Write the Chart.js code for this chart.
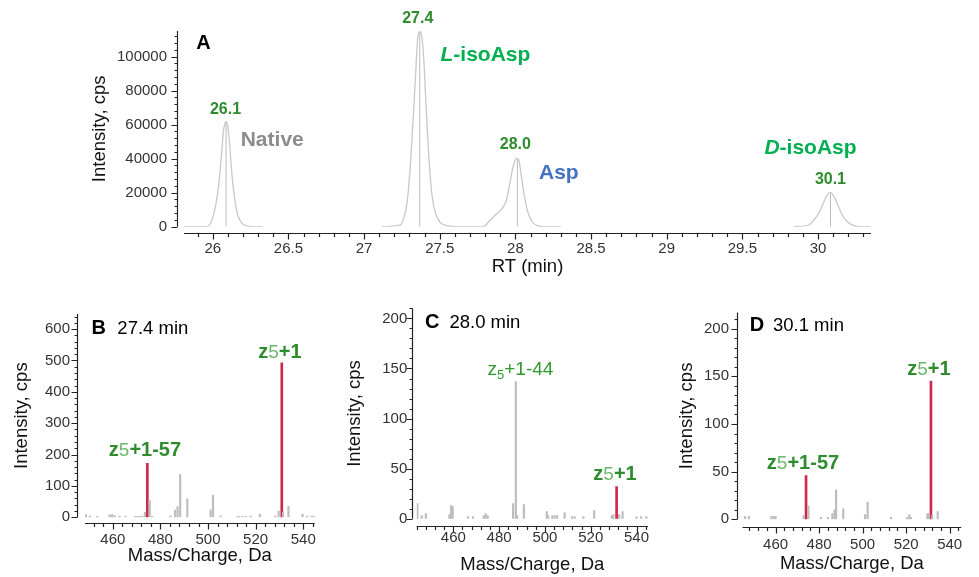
<!DOCTYPE html>
<html><head><meta charset="utf-8">
<script src="https://cdn.jsdelivr.net/npm/chart.js@4.4.1/dist/chart.umd.min.js"></script>
<style>
body{margin:0;width:979px;height:577px;overflow:hidden;background:#fff;position:relative}
canvas{position:absolute}
</style></head><body>
<canvas id="cA" style="left:0;top:0"></canvas>
<canvas id="cB" style="left:0;top:290px"></canvas>
<canvas id="cC" style="left:330px;top:290px"></canvas>
<canvas id="cD" style="left:660px;top:290px"></canvas>
<script>
// panel A: extracted ion chromatogram (null = gap between traces)
const traceRT=[25.81,25.96,25.99,26.018,26.04,26.055,26.069,26.08,26.089,26.1,26.113,26.128,26.146,26.165,26.194,26.227,26.26,26.33,26.7,
  27.12,27.24,27.262,27.28,27.295,27.311,27.328,27.342,27.353,27.366,27.38,27.395,27.41,27.428,27.45,27.472,27.505,27.55,27.615,27.79,
  27.824,27.868,27.913,27.941,27.963,27.985,28.007,28.022,28.04,28.06,28.082,28.111,28.144,28.188,28.30,29.0,
  29.84,29.939,29.972,30.005,30.034,30.06,30.082,30.104,30.131,30.16,30.193,30.237,30.28,30.347];
const traceInt=[0,0,3000,11750,25500,39200,54900,60750,61700,58750,47000,29400,15700,6900,2000,500,0,0,null,
  0,1000,4900,11750,23500,43100,68600,92000,109700,114600,112600,97900,70500,41100,17600,7900,2350,600,0,0,
  2900,6900,10800,15700,25500,35250,40200,39200,29400,17600,8800,2900,600,0,0,null,
  0,1000,3900,7900,13700,18600,20200,18000,12750,6900,2900,600,0,0];
const peakRT=[26.088,27.368,28.013,30.082];
const peakInt=[61700,114600,40200,20200];
const rtTicks=[26,26.5,27,27.5,28,28.5,29,29.5,30];
const intTicksA=[0,20000,40000,60000,80000,100000];

// panels B-D: MS/MS spectra
const mzTicks=[460,480,500,520,540];
const intTicksB=[0,100,200,300,400,500,600];
const intTicksCD=[0,50,100,150,200];
const bMz=[448.7,450.4,453.4,458.6,459.6,460.7,462.8,465.3,469.4,470.3,471.3,472.4,473.5,475.5,476.5,484.2,486.2,487.2,488.3,491.3,501.1,502.1,505.3,512.4,513.1,514.5,515.9,517.9,521.8,528.3,529.7,531.5,533.8,539.7,541.7,543.5,544.4];
const bInt=[9,4,3,8,9,6,4,4,3,3,3,4,16,53,3,5,23,34,136,59,24,71,5,3,3,3,3,4,10,5,20,16,35,10,4,4,4];
const bRedMz=[474.5,531.0];
const bRedInt=[172,492];
const cMz=[444.3,446.2,448,458.3,459,459.7,466.4,468.6,473.3,474.1,475,486.1,487.3,487.9,490.8,500.8,501.4,503.2,504.2,505.3,508.6,511.8,513,516.8,521.5,529.2,529.9,532.4,533.9,540,542,544.3];
const cInt=[15,3,5,4,13,12,2,2,3,5,3,15,137,3,14,7,3,3,3,3,6,2,2,2,8,3,4,4,7,2,2,2];
const cRedMz=[531.3];
const cRedInt=[32];
const dMz=[445.9,447.7,458.1,459.1,460,472.9,475.1,480.8,484.1,486.1,487.1,487.8,491.1,501.1,502.3,513,520.5,521.5,522.2,529.8,530.5,532,534.5];
const dInt=[3,3,3,3,3,4,14,2,2,6,10,31,11,5,18,2,2,5,2,6,6,4,8];
const dRedMz=[474.0,531.4];
const dRedInt=[46,145];

const F="'Liberation Sans', Arial, sans-serif";
const DG='#2e8b2e', LG='#6cb86c', RED='#d0284a', GRAY='#bdbdbd';

function axesPlugin(o){
  return {id:'axes',afterDraw(chart){
    const {ctx,chartArea:a,scales:{x,y}}=chart;
    const ax=Math.round(a.left-o.yGap)+0.5, ay=Math.round(a.bottom+o.xGap)+0.5, y0=y.getPixelForValue(0);
    ctx.save();
    ctx.strokeStyle='#222';ctx.lineWidth=1.2;
    ctx.beginPath();
    ctx.moveTo(ax,a.top);ctx.lineTo(ax,y0);
    ctx.moveTo(a.left,ay);ctx.lineTo(a.right,ay);
    for(let i=0;i*o.yMinor<=y.max+1e-9;i++){
      const v=i*o.yMinor,p=Math.round(y.getPixelForValue(v))+0.5;
      const len=Math.abs(v/o.yMajor-Math.round(v/o.yMajor))<1e-6?6:3;
      ctx.moveTo(ax,p);ctx.lineTo(ax-len,p);
    }
    for(let i=Math.ceil(x.min/o.xMinor-1e-6);i*o.xMinor<=x.max+1e-9;i++){
      const v=i*o.xMinor,p=Math.round(x.getPixelForValue(v))+0.5;
      const len=Math.abs(v/o.xMajor-Math.round(v/o.xMajor))<1e-6?6:3.5;
      ctx.moveTo(p,ay);ctx.lineTo(p,ay+len);
    }
    ctx.stroke();
    ctx.textBaseline='middle';ctx.textAlign='left';
    o.notes.forEach(n=>{
      const px=x.getPixelForValue(n.x),py=y.getPixelForValue(n.y);
      const ws=n.parts.map(p=>{ctx.font=p.f;return ctx.measureText(p.t).width;});
      let cx=n.left?px:px-ws.reduce((s,w)=>s+w,0)/2;
      n.parts.forEach((p,i)=>{ctx.font=p.f;ctx.fillStyle=p.c;ctx.fillText(p.t,cx,py+(p.dy||0));cx+=ws[i];});
    });
    ctx.restore();
  }};
}

function makeChart(id,w,h,type,datasets,L){
  const c=document.getElementById(id);
  c.width=w;c.height=h;
  return new Chart(c,{type,data:{datasets},plugins:[axesPlugin(L.axes)],options:{
    responsive:false,animation:false,devicePixelRatio:1,
    layout:{padding:{left:L.padL,top:L.top,right:w-L.right,bottom:h-L.bottom-L.xH}},
    plugins:{legend:{display:false},tooltip:{enabled:false}},
    scales:{
      x:{type:'linear',min:L.xMin,max:L.xMax,offset:false,
        grid:{display:false,drawTicks:false},border:{display:false},
        afterBuildTicks:s=>{s.ticks=L.xTicks.map(v=>({value:v}));},
        afterFit:s=>{s.height=L.xH;},
        ticks:{padding:L.xPad,color:'#333',autoSkip:false,maxRotation:0,font:{size:15,family:F},callback:v=>String(v)},
        title:{display:true,text:L.xTitle,padding:0,color:'#111',font:{size:18.5,family:F}}},
      y:{type:'linear',min:0,max:L.yMax,
        grid:{display:false,drawTicks:false},border:{display:false},
        afterBuildTicks:s=>{s.ticks=L.yTicks.map(v=>({value:v}));},
        afterFit:s=>{s.width=L.yW;},
        ticks:{padding:L.yPad,color:'#333',font:{size:15,family:F},callback:v=>String(v)},
        title:{display:true,text:'Intensity, cps',padding:0,color:'#111',font:{size:18.5,family:F}}}
    }
  }});
}

const pts=(xs,ys)=>xs.map((v,i)=>({x:v,y:ys[i]}));
const sticks=(xs,ys,col,t)=>({type:'bar',data:pts(xs,ys),backgroundColor:col,barThickness:t,grouped:false});
const bold=s=>'bold '+s+'px '+F, reg=s=>s+'px '+F;
const zBold=(rest)=>[{t:'z',f:bold(20),c:DG},{t:'5',f:reg(19),c:LG},{t:rest,f:bold(20),c:DG}];
const panelLabel=(L,txt,x,y,x2)=>[{x,y,parts:[{t:L,f:bold(20),c:'#000'}]},{x:x2,y,left:true,parts:[{t:txt,f:reg(18.5),c:'#000'}]}];

makeChart('cA',979,290,'line',[
  {data:pts(traceRT,traceInt),borderColor:'#c8c8c8',borderWidth:1.3,pointRadius:0,cubicInterpolationMode:'monotone',spanGaps:false},
  {data:peakRT.flatMap((t,i)=>[{x:t,y:0},{x:t,y:peakInt[i]},{x:t,y:null}]),borderColor:'#bcbcbc',borderWidth:1,pointRadius:0,spanGaps:false}
],{padL:88.9,yW:95.1,top:31,right:871,bottom:226.7,xH:50.9,xMin:25.81,xMax:30.35,yMax:115000,
  xTicks:rtTicks,yTicks:intTicksA,xPad:13.6,yPad:17,xTitle:'RT (min)',
  axes:{yGap:7.3,xGap:6.6,yMinor:4000,yMajor:20000,xMinor:0.1,xMajor:0.5,notes:[
    {x:25.939,y:107900,parts:[{t:'A',f:bold(20),c:'#000'}]},
    {x:26.084,y:68560,parts:[{t:'26.1',f:bold(16),c:DG}]},
    {x:26.393,y:50940,parts:[{t:'Native',f:bold(21),c:'#8c8c8c'}]},
    {x:27.355,y:122430,parts:[{t:'27.4',f:bold(16),c:DG}]},
    {x:27.802,y:100870,parts:[{t:'L',f:'italic '+bold(21),c:'#00b050'},{t:'-isoAsp',f:bold(21),c:'#00b050'}]},
    {x:28.0,y:48000,parts:[{t:'28.0',f:bold(16),c:DG}]},
    {x:28.287,y:31725,parts:[{t:'Asp',f:bold(21),c:'#4472c4'}]},
    {x:29.95,y:46060,parts:[{t:'D',f:'italic '+bold(21),c:'#00b050'},{t:'-isoAsp',f:bold(21),c:'#00b050'}]},
    {x:30.082,y:27850,parts:[{t:'30.1',f:bold(16),c:DG}]}
  ]}});

makeChart('cB',330,287,'bar',[sticks(bMz,bInt,GRAY,1.5),sticks(bRedMz,bRedInt,RED,2)],
  {padL:10.6,yW:74.4,top:5.2,right:318.3,bottom:227.3,xH:49.8,xMin:448.3,xMax:544.8,yMax:648,
  xTicks:mzTicks,yTicks:intTicksB,xPad:13.7,yPad:15,xTitle:'Mass/Charge, Da',
  axes:{yGap:8,xGap:6,yMinor:20,yMajor:100,xMinor:4,xMajor:20,notes:[
    ...panelLabel('B','27.4 min',454.1,601,461.9),
    {x:473.5,y:212,parts:zBold('+1-57')},
    {x:530.2,y:525,parts:zBold('+1')}
  ]}});

makeChart('cC',330,287,'bar',[sticks(cMz,cInt,GRAY,1.5),sticks(cRedMz,cRedInt,RED,2)],
  {padL:13.9,yW:72.8,top:5,right:322.7,bottom:228.7,xH:57.4,xMin:444,xMax:545,yMax:210,
  xTicks:mzTicks,yTicks:intTicksCD,xPad:10.6,yPad:9.4,xTitle:'Mass/Charge, Da',
  axes:{yGap:5,xGap:6.8,yMinor:10,yMajor:50,xMinor:4,xMajor:20,notes:[
    ...panelLabel('C','28.0 min',450.8,195.8,458.3),
    {x:489.3,y:148.3,parts:[{t:'z',f:reg(19),c:'#2e9a2e'},{t:'5',f:reg(13),c:'#2e9a2e',dy:5},{t:'+1-44',f:reg(19),c:'#2e9a2e'}]},
    {x:530.6,y:43.9,parts:zBold('+1')}
  ]}});

makeChart('cD',319,287,'bar',[sticks(dMz,dInt,GRAY,1.5),sticks(dRedMz,dRedInt,RED,2)],
  {padL:15.6,yW:66.9,top:6.7,right:316.7,bottom:229.3,xH:55.8,xMin:444.8,xMax:545.3,yMax:217,
  xTicks:mzTicks,yTicks:intTicksCD,xPad:16.7,yPad:13.5,xTitle:'Mass/Charge, Da',
  axes:{yGap:5.8,xGap:7.4,yMinor:10,yMajor:50,xMinor:4,xMajor:20,notes:[
    ...panelLabel('D','30.1 min',451.5,203.2,458.8),
    {x:530.5,y:157.1,parts:zBold('+1')},
    {x:472.6,y:58.7,parts:zBold('+1-57')}
  ]}});
</script>
</body></html>
